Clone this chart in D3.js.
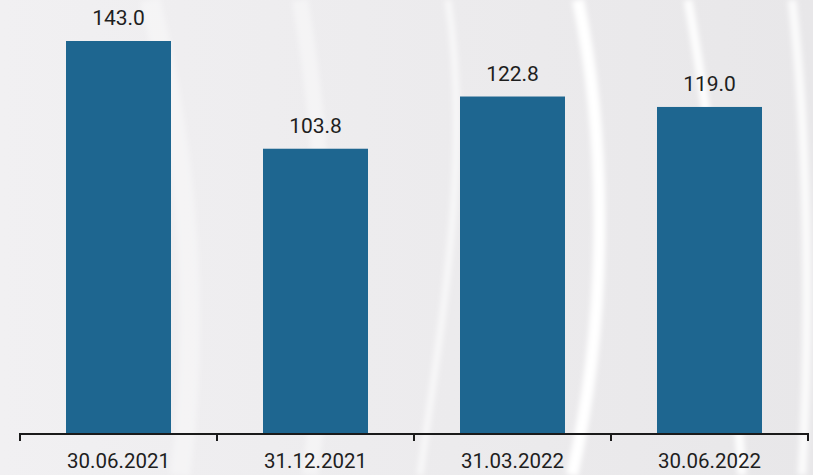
<!DOCTYPE html>
<html><head><meta charset="utf-8">
<script src="https://cdn.jsdelivr.net/npm/d3@7"></script>
<style>html,body{margin:0;padding:0;background:#eeedef;}svg{display:block;}</style>
</head><body>
<script>
const categories = ["30.06.2021", "31.12.2021", "31.03.2022", "30.06.2022"];
const values = [143.0, 103.8, 122.8, 119.0];
const valueLabels = ["143.0", "103.8", "122.8", "119.0"];

const W = 813, H = 475;
const svg = d3.select("body").append("svg").attr("width", W).attr("height", H);
const defs = svg.append("defs");
const blur = defs.append("filter").attr("id","blur").attr("x","-50%").attr("y","-50%").attr("width","200%").attr("height","200%");
blur.append("feGaussianBlur").attr("stdDeviation", 2.5);
const lg = defs.append("linearGradient").attr("id","bg").attr("x1",0).attr("y1",0).attr("x2",1).attr("y2",0);
lg.append("stop").attr("offset","0").attr("stop-color","#f1f0f2");
lg.append("stop").attr("offset","1").attr("stop-color","#e8e7e9");
svg.append("rect").attr("width",W).attr("height",H).attr("fill","url(#bg)");

// decorative background streaks
const streaks = [
  {d:"M578,0 C603,120 612,300 572,475", w:12, o:1},
  {d:"M688,0 C715,150 730,300 742,475", w:9, o:0.9},
  {d:"M792,0 C806,120 812,300 802,475", w:9, o:0.8},
  {d:"M448,0 C472,160 440,330 420,475", w:7, o:0.6},
  {d:"M300,0 C330,180 330,330 310,475", w:16, o:0.4},
  {d:"M150,0 C190,160 200,330 180,475", w:20, o:0.35}
];
svg.append("g").attr("filter","url(#blur)").selectAll("path").data(streaks).join("path")
  .attr("d", d=>d.d).attr("fill","none").attr("stroke","#ffffff")
  .attr("stroke-width", d=>d.w).attr("stroke-opacity", d=>d.o);

const x = d3.scaleBand().domain(categories).range([20, 808]).paddingInner(0.467).paddingOuter(0.2335);
const y = d3.scaleLinear().domain([0, 143]).range([434, 41]);

svg.append("g").selectAll("rect").data(values).join("rect")
  .attr("x", (d,i)=>x(categories[i]))
  .attr("y", d=>y(d))
  .attr("width", x.bandwidth())
  .attr("height", d=>y(0)-y(d))
  .attr("fill", "#1e6690");

svg.append("g").selectAll("text").data(values).join("text")
  .attr("x", (d,i)=>x(categories[i]) + x.bandwidth()/2)
  .attr("y", d=>y(d) - 16)
  .attr("text-anchor","middle")
  .attr("font-family","Roboto, sans-serif")
  .attr("font-size", 21)
  .attr("fill","#1e1e1e")
  .text((d,i)=>valueLabels[i]);

// axis line and boundary ticks
const axisG = svg.append("g");
axisG.append("line").attr("x1",20).attr("x2",808).attr("y1",434).attr("y2",434)
  .attr("stroke","#1a1a1a").attr("stroke-width",2);
const bounds = categories.map(c=>x(c) - x.step()*x.paddingInner()/2);
bounds.push(x(categories[categories.length-1]) + x.bandwidth() + x.step()*x.paddingInner()/2);
axisG.selectAll("line.tk").data(bounds).join("line").attr("class","tk")
  .attr("x1",d=>d).attr("x2",d=>d).attr("y1",433).attr("y2",441)
  .attr("stroke","#1a1a1a").attr("stroke-width",2);

axisG.selectAll("text").data(categories).join("text")
  .attr("x", c=>x(c)+x.bandwidth()/2)
  .attr("y", 468)
  .attr("text-anchor","middle")
  .attr("font-family","Roboto, sans-serif")
  .attr("font-size", 20.5)
  .attr("fill","#1e1e1e")
  .text(c=>c);
</script>
</body></html>
